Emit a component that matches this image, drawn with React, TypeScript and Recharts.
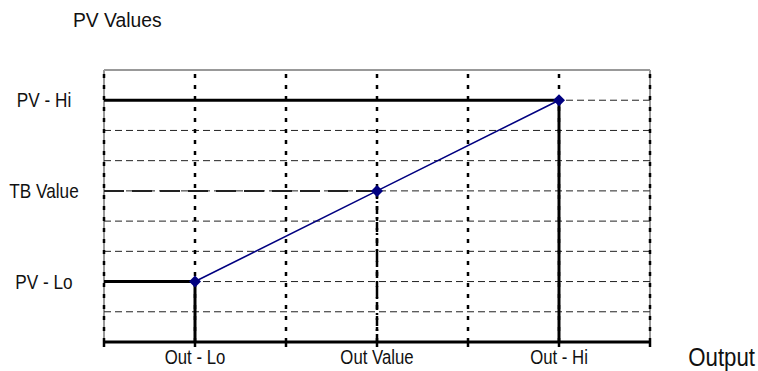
import { Line, LineChart, ReferenceLine, XAxis, YAxis } from 'recharts'

const outputTicks = [0, 1, 2, 3, 4, 5, 6]
const outputLabels = ['', 'Out - Lo', '', 'Out Value', '', 'Out - Hi', '']
const pvTicks = [2, 5, 8]
const pvLabels = ['PV - Lo', 'TB Value', 'PV - Hi']
const gridRows = [1, 2, 3, 4, 5, 6, 7, 8]
const outValues = [1, 3, 5]
const pvValues = [2, 5, 8]
const X_MAX = 6
const Y_MAX = 9

// no condensed face installed, so squeeze Liberation Sans horizontally
const FONT = "'Liberation Sans', Arial, sans-serif"
const W = 758
const H = 371

const points = outValues.map((out, i) => ({ out, pv: pvValues[i] }))

function Diamond({ cx, cy, index }: { cx?: number; cy?: number; index?: number }) {
  if (cx == null || cy == null) return null
  const r = 6
  return (
    <path
      key={`d-${index}`}
      d={`M${cx},${cy - r}L${cx + r},${cy}L${cx},${cy + r}L${cx - r},${cy}Z`}
      fill="#000080"
    />
  )
}

function NarrowText({
  x,
  y,
  size,
  squeeze = 0.86,
  anchor = 'middle',
  children,
}: {
  x: number
  y: number
  size: number
  squeeze?: number
  anchor?: 'start' | 'middle' | 'end'
  children: string
}) {
  return (
    <text
      transform={`translate(${x},${y}) scale(${squeeze},1)`}
      textAnchor={anchor}
      fontSize={size}
      fill="#111"
      fontFamily={FONT}
    >
      {children}
    </text>
  )
}

function OutTick({ x, y, payload }: { x?: number; y?: number; payload?: { value: number } }) {
  const label = outputLabels[outputTicks.indexOf(payload?.value ?? -1)] ?? ''
  return (
    <NarrowText x={x ?? 0} y={(y ?? 0) + 15} size={19.5}>
      {label}
    </NarrowText>
  )
}

function PvTick({ y, payload }: { y?: number; payload?: { value: number } }) {
  const label = pvLabels[pvTicks.indexOf(payload?.value ?? -1)] ?? ''
  return (
    <NarrowText x={44} y={(y ?? 0) + 7} size={20}>
      {label}
    </NarrowText>
  )
}

export default function App() {
  const [lo, tb, hi] = points
  // fixed so the 8px body margin cannot push the page into scrolling
  return (
    <div style={{ position: 'fixed', left: 0, top: 0, width: W, height: H, background: '#fff' }}>
      <LineChart width={W} height={H} data={points} margin={{ top: 70, right: 108, left: 0, bottom: 0 }}>
        <XAxis
          dataKey="out"
          type="number"
          domain={[0, X_MAX]}
          ticks={outputTicks}
          height={29}
          axisLine={{ stroke: '#000', strokeWidth: 3 }}
          tickLine={{ stroke: '#000', strokeWidth: 2.5 }}
          tickSize={5}
          tick={<OutTick />}
          interval={0}
        />
        <YAxis
          type="number"
          domain={[0, Y_MAX]}
          ticks={pvTicks}
          width={104}
          axisLine={false}
          tickLine={false}
          tick={<PvTick />}
          interval={0}
        />
        {/* frame */}
        <ReferenceLine x={0} stroke="#999" strokeWidth={2} />
        <ReferenceLine x={X_MAX} stroke="#999" strokeWidth={2} />
        <ReferenceLine y={Y_MAX} stroke="#999" strokeWidth={2} />
        {/* dashed rows */}
        {gridRows.map((r) => (
          <ReferenceLine key={`r${r}`} y={r} stroke="#222" strokeWidth={1} strokeDasharray="7 4" />
        ))}
        {/* dotted columns */}
        {outputTicks.map((c) => (
          <ReferenceLine key={`c${c}`} x={c} stroke="#000" strokeWidth={2.5} strokeDasharray="4 7" />
        ))}
        {/* Lo and Hi guides */}
        <ReferenceLine segment={[{ x: 0, y: lo.pv }, { x: lo.out, y: lo.pv }]} stroke="#000" strokeWidth={3} />
        <ReferenceLine segment={[{ x: lo.out, y: 0 }, { x: lo.out, y: lo.pv }]} stroke="#000" strokeWidth={3} />
        <ReferenceLine segment={[{ x: 0, y: hi.pv }, { x: hi.out, y: hi.pv }]} stroke="#000" strokeWidth={3} />
        <ReferenceLine segment={[{ x: hi.out, y: 0 }, { x: hi.out, y: hi.pv }]} stroke="#000" strokeWidth={3} />
        {/* TB guides */}
        <ReferenceLine
          segment={[{ x: 0, y: tb.pv }, { x: tb.out, y: tb.pv }]}
          stroke="#222"
          strokeWidth={2}
          strokeDasharray="20 8"
        />
        <ReferenceLine
          segment={[{ x: tb.out, y: 0 }, { x: tb.out, y: tb.pv }]}
          stroke="#000"
          strokeWidth={2.5}
          strokeDasharray="8 3 2 3"
        />
        <Line
          dataKey="pv"
          stroke="#000080"
          strokeWidth={1.6}
          dot={<Diamond />}
          activeDot={false}
          isAnimationActive={false}
        />
      </LineChart>
      {/* axis titles */}
      <svg width={W} height={H} style={{ position: 'absolute', left: 0, top: 0, pointerEvents: 'none' }}>
        <NarrowText x={73} y={27} size={19.5} squeeze={0.99} anchor="start">
          PV Values
        </NarrowText>
        <NarrowText x={755} y={366} size={25} squeeze={0.89} anchor="end">
          Output
        </NarrowText>
      </svg>
    </div>
  )
}
